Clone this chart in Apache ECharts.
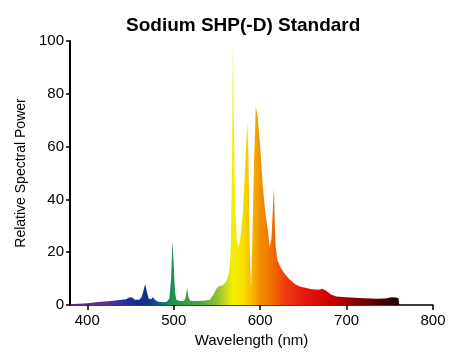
<!DOCTYPE html>
<html>
<head>
<meta charset="utf-8">
<script src="https://cdn.jsdelivr.net/npm/echarts@6/dist/echarts.min.js"></script>
<style>
  html, body { margin: 0; padding: 0; background: #fff; }
  #chart { width: 466px; height: 353px; }
</style>
</head>
<body>
<div id="chart"></div>
<script>
// wavelength (nm) and relative power
const wavelengths = [
    380, 390, 400, 410, 420, 430, 440, 445, 448, 450, 452, 455, 460, 463, 465, 467, 469, 471, 474, 476,
    478, 482, 488, 492, 495, 497, 498.5, 500, 501.5, 503, 507, 512, 514, 515.5, 517, 519, 525, 535, 542, 546,
    550, 553, 557, 561, 564, 566, 567.5, 568.5, 569.5, 571, 573, 575, 577, 580, 583, 585, 586.5, 588, 589.5, 591,
    593, 595, 597, 600, 603, 606, 609, 611, 613, 615, 616, 617, 618, 620, 624, 628, 633, 640, 646, 652,
    660, 668, 672, 676, 682, 688, 695, 705, 720, 735, 745, 752, 757, 760, 761
];
const power = [
    0.3, 0.5, 0.7, 1.0, 1.3, 1.6, 2.0, 2.2, 2.8, 3.2, 2.8, 2.0, 2.0, 3.0, 5.5, 8.0, 5.0, 2.5, 2.2, 3.0,
    2.0, 1.2, 1.0, 1.2, 2.5, 10, 24.5, 15, 5, 2, 1.5, 1.5, 3, 6.5, 3, 1.6, 1.5, 1.6, 2.0, 4,
    6.5, 7.2, 7.5, 9, 12, 20, 55, 100, 70, 40, 24, 22, 25, 35, 55, 69, 55, 20, 6, 25,
    55, 75, 72, 60, 45, 35, 28, 22, 25, 38, 44.5, 30, 22, 17, 14, 12, 10, 8, 7, 6.5,
    6, 5.8, 6.2, 5.5, 4, 3.2, 3, 2.8, 2.6, 2.4, 2.5, 2.9, 2.8, 2.6, 0
];
const xTicks = [400, 500, 600, 700, 800];
const yTicks = [0, 20, 40, 60, 80, 100];

// spectrum colours by wavelength
const colorNm = [380, 420, 440, 455, 470, 485, 495, 505, 530, 550, 560, 568, 580, 590, 600, 615, 630, 650, 680, 700, 730, 761];
const colorHex = ['#5a2a7a', '#6030a0', '#3030a0', '#1a2a90', '#12308e', '#10608a', '#1a8a5a', '#2a9a40', '#4aa640', '#8cc030',
    '#c8d820', '#f2f000', '#f8e000', '#f8b800', '#f29000', '#f06a00', '#ee3a10', '#e81810', '#d00000', '#a00000', '#600000', '#200000'];

const lo = wavelengths[0], hi = wavelengths[wavelengths.length - 1];
const stops = colorNm.map((nm, i) => ({offset: (nm - lo) / (hi - lo), color: colorHex[i]}));

const myChart = echarts.init(document.getElementById('chart'));
const font = 'Arial, "Liberation Sans", sans-serif';
const option = {
    animation: false,
    title: {
        text: 'Sodium SHP(-D) Standard',
        left: 121,
        top: 11,
        textStyle: {fontFamily: font, fontSize: 19, fontWeight: 'bold', color: '#000'}
    },
    grid: {left: 70, right: 33, top: 41, bottom: 48},
    xAxis: {
        type: 'value',
        min: 380,
        max: 800,
        name: 'Wavelength (nm)',
        nameLocation: 'middle',
        nameGap: 24,
        nameTextStyle: {fontFamily: font, fontSize: 15, color: '#000'},
        axisLine: {lineStyle: {color: '#000', width: 1.5}},
        axisTick: {length: 5, lineStyle: {color: '#000', width: 1.5}, customValues: xTicks},
        axisLabel: {fontFamily: font, fontSize: 15, color: '#000', margin: 8, customValues: xTicks},
        splitLine: {show: false}
    },
    yAxis: {
        type: 'value',
        min: 0,
        max: 100,
        interval: 20,
        name: 'Relative Spectral Power',
        nameLocation: 'middle',
        nameGap: 33,
        nameTextStyle: {fontFamily: font, fontSize: 14, color: '#000'},
        axisLine: {show: true, lineStyle: {color: '#000', width: 2}},
        axisTick: {show: true, length: 4, lineStyle: {color: '#000', width: 1.5}},
        axisLabel: {fontFamily: font, fontSize: 15, color: '#000', margin: 6},
        splitLine: {show: false}
    },
    series: [{
        type: 'line',
        data: wavelengths.map((w, i) => [w, power[i]]),
        showSymbol: false,
        lineStyle: {width: 0},
        areaStyle: {
            opacity: 1,
            color: new echarts.graphic.LinearGradient(0, 0, 1, 0, stops)
        },
        z: 1
    }]
};
myChart.setOption(option);
</script>
</body>
</html>
